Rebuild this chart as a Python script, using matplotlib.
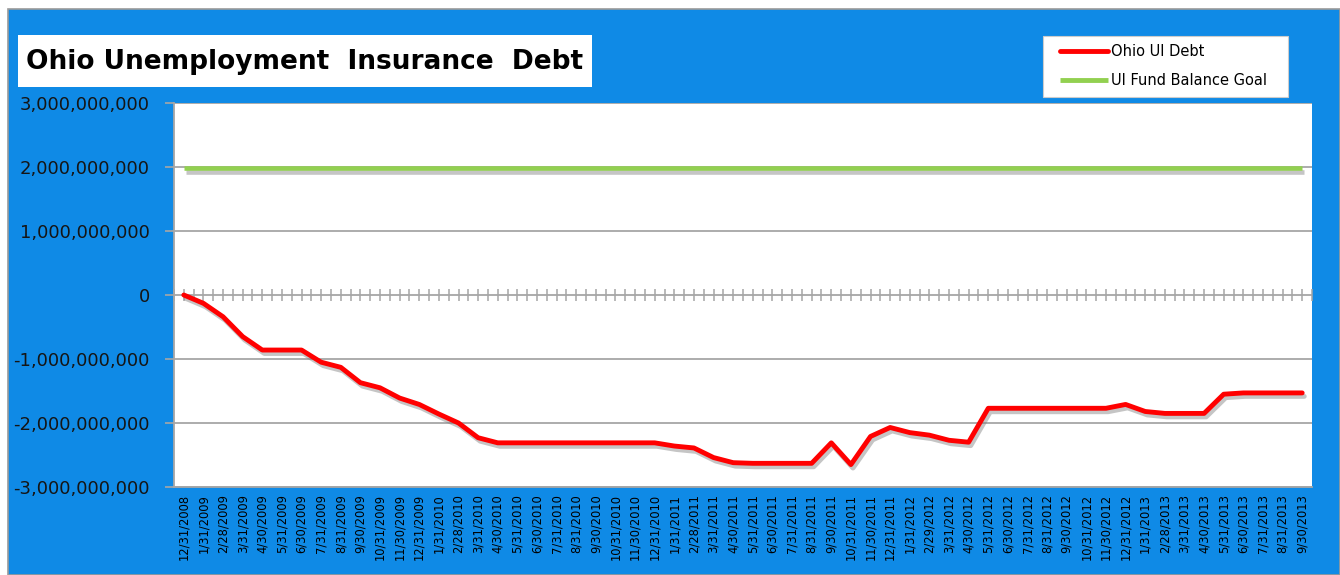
import matplotlib
matplotlib.use("Agg")
import matplotlib.pyplot as plt
import matplotlib.patheffects as pe
from matplotlib.patches import Rectangle
from matplotlib.ticker import FuncFormatter, MultipleLocator
import numpy as np
import pandas as pd

# ---- data ----
dates = pd.date_range("2008-12-31", periods=58, freq="ME")
date_labels = [f"{d.month}/{d.day}/{d.year}" for d in dates]

ohio_ui_debt = [
    0.00, -0.13, -0.34, -0.65, -0.86, -0.86, -0.86, -1.05, -1.13, -1.37,
    -1.45, -1.61, -1.71, -1.86, -2.00, -2.23, -2.31, -2.31, -2.31, -2.31,
    -2.31, -2.31, -2.31, -2.31, -2.31, -2.36, -2.39, -2.54, -2.62, -2.63,
    -2.63, -2.63, -2.63, -2.31, -2.65, -2.21, -2.07, -2.15, -2.19, -2.27,
    -2.30, -1.77, -1.77, -1.77, -1.77, -1.77, -1.77, -1.77, -1.71, -1.82,
    -1.85, -1.85, -1.85, -1.55, -1.53, -1.53, -1.53, -1.53,
]
ohio_ui_debt = [v * 1e9 for v in ohio_ui_debt]
fund_goal = [1.98e9] * len(ohio_ui_debt)

title = "Ohio Unemployment  Insurance  Debt"
series_names = ["Ohio UI Debt", "UI Fund Balance Goal"]

# ---- figure ----
W, H = 1340, 575
fig = plt.figure(figsize=(W / 100, H / 100), dpi=100, facecolor="white")

blue = "#0f8ae6"
fig.patches.append(Rectangle((8 / W, 0), 1 - 8 / W, 1 - 9 / H, transform=fig.transFigure,
                             facecolor=blue, edgecolor="#9a9a9a", linewidth=1.2, zorder=-5))

ax = fig.add_axes([174 / W, 1 - 487 / H, (1312 - 174) / W, (487 - 103) / H])
ax.set_zorder(1)
ax.set_facecolor("white")

x = np.arange(len(date_labels))
shadow = [pe.SimpleLineShadow(offset=(1.5, -2.5), shadow_color="#7f7f7f", alpha=0.45), pe.Normal()]
ax.plot(x, ohio_ui_debt, color="#ff0000", lw=3.5, solid_joinstyle="round",
        solid_capstyle="round", label=series_names[0], path_effects=shadow, zorder=4)
ax.plot(x, fund_goal, color="#92d050", lw=3.3, solid_capstyle="butt",
        label=series_names[1], path_effects=shadow, zorder=4)

ax.set_xlim(-0.5, len(x) - 0.5)
ax.set_ylim(-3e9, 3e9)
ax.yaxis.set_major_locator(MultipleLocator(1e9))
ax.yaxis.set_major_formatter(FuncFormatter(lambda v, p: f"{v:,.0f}"))
ax.grid(axis="y", color="#a6a6a6", lw=1.3, zorder=1)
ax.set_axisbelow(True)

ax.set_xticks(x)
ax.set_xticklabels(date_labels, rotation=90, fontsize=8.3, family="DejaVu Sans", va="top")
ax.tick_params(axis="x", length=0, pad=5, colors="black")
ax.tick_params(axis="y", length=6.5, width=1.2, color="#a6a6a6", pad=11, labelsize=13)
for lab in ax.get_yticklabels():
    lab.set_family("DejaVu Sans")
    lab.set_color("#151515")

for s in ["top", "right"]:
    ax.spines[s].set_visible(False)
for s in ["left", "bottom"]:
    ax.spines[s].set_color("#a6a6a6")
    ax.spines[s].set_linewidth(1.3)

# cross ticks on zero line
sec = ax.secondary_xaxis(0.5)
sec.set_xticks(np.arange(-0.5, len(x), 0.5))
sec.tick_params(axis="x", direction="inout", length=8, width=1.1, color="#a6a6a6",
                labelbottom=False, labeltop=False)
sec.spines["bottom"].set_color("#a6a6a6")
sec.spines["bottom"].set_linewidth(1.3)
sec.spines["top"].set_visible(False)

# title box
fig.patches.append(Rectangle((18 / W, 1 - 87 / H), 574 / W, 52 / H, transform=fig.transFigure,
                             facecolor="white", edgecolor="none", zorder=2))
fig.text(305 / W, 1 - 62 / H, title, ha="center", va="center", fontsize=19,
         fontweight="bold", family="DejaVu Sans", color="black", zorder=3)

# legend box (below the axes layer so the legend shows on top)
fig.patches.append(Rectangle((1043 / W, 1 - 97 / H), 245 / W, 61 / H, transform=fig.transFigure,
                             facecolor="white", edgecolor="#cccccc", linewidth=0.8, zorder=0.5))
leg = ax.legend(loc="upper left", bbox_to_anchor=(1060 / W, 1 - 44 / H),
                bbox_transform=fig.transFigure, borderaxespad=0, frameon=False,
                fontsize=10.5, handlelength=3.3, handletextpad=0.2,
                labelspacing=0.95, borderpad=0)
for line in leg.get_lines():
    line.set_path_effects([])
    line.set_linewidth(3.5)

fig.savefig("out.png", dpi=100, facecolor=fig.get_facecolor())
